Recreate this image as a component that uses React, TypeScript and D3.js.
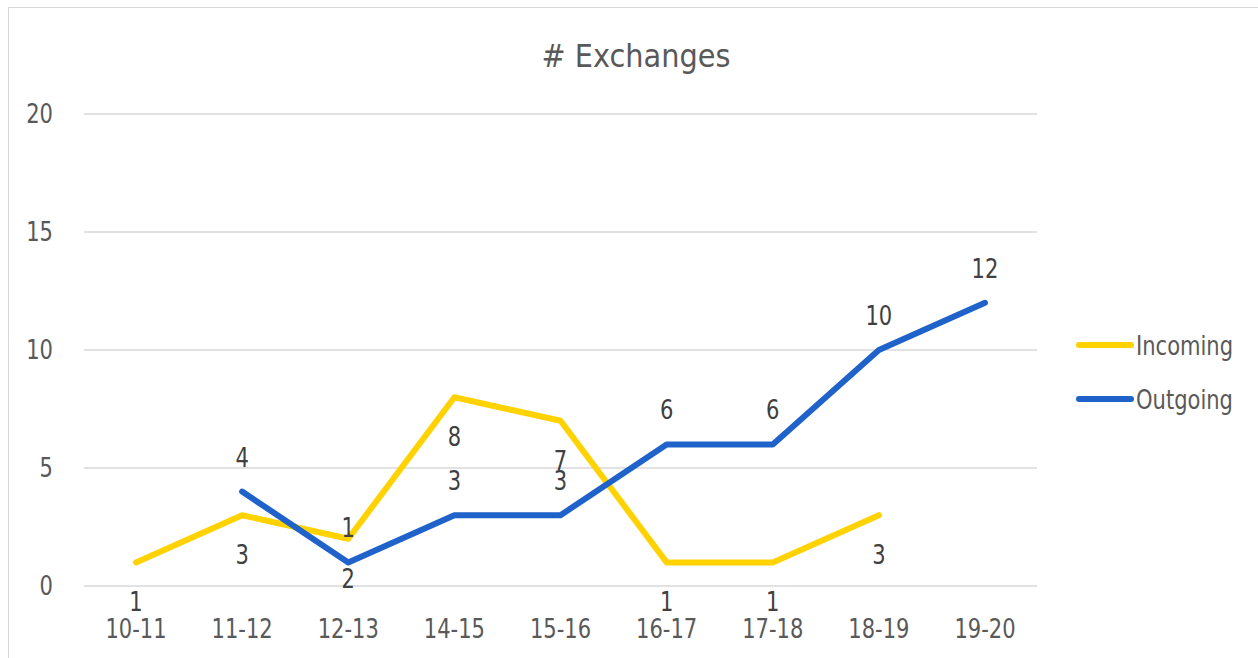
import React, { useEffect, useRef } from 'react';
import * as d3 from 'd3';

const categories = ['10-11', '11-12', '12-13', '14-15', '15-16', '16-17', '17-18', '18-19', '19-20'];
const incoming: (number | null)[] = [1, 3, 2, 8, 7, 1, 1, 3, null];
const outgoing: (number | null)[] = [null, 4, 1, 3, 3, 6, 6, 10, 12];
const yTicks = [0, 5, 10, 15, 20];

const FONT = '"DejaVu Sans", sans-serif';
const SQUEEZE = 0.78;

const App = () => {
  const svgRef = useRef<SVGSVGElement>(null);

  useEffect(() => {
    const svg = d3.select(svgRef.current);
    svg.selectAll('*').remove();

    const W = 1258;
    const H = 658;

    // narrow-looking text: squeeze horizontally around its anchor point
    const addText = (
      parent: d3.Selection<any, unknown, null, undefined>,
      tx: number,
      ty: number,
      label: string | number,
      opts: { size?: number; fill?: string; anchor?: string; sx?: number } = {}
    ) => {
      parent.append('text')
        .attr('transform', `translate(${tx},${ty}) scale(${opts.sx ?? SQUEEZE},1)`)
        .attr('text-anchor', opts.anchor ?? 'middle')
        .attr('font-family', FONT)
        .attr('font-size', opts.size ?? 27)
        .attr('fill', opts.fill ?? '#595959')
        .text(label);
    };

    // chart frame
    svg.append('rect')
      .attr('x', 8.5).attr('y', 7.5)
      .attr('width', W).attr('height', H)
      .attr('fill', 'white')
      .attr('stroke', '#d9d9d9');

    const x = d3.scalePoint<string>()
      .domain(categories)
      .range([136, 985]);

    const y = d3.scaleLinear()
      .domain([0, 20])
      .range([586, 114]);

    // Title
    addText(svg, 636, 67, '# Exchanges', { size: 32, sx: 0.9 });

    // Grid
    svg.append('g')
      .selectAll('line')
      .data(yTicks)
      .enter()
      .append('line')
      .attr('x1', 84).attr('x2', 1037)
      .attr('y1', d => y(d)).attr('y2', d => y(d))
      .attr('stroke', '#d9d9d9')
      .attr('stroke-width', 1.5);

    // Y labels
    const yg = svg.append('g');
    yTicks.forEach(t => addText(yg, 53, y(t) + 9, t, { anchor: 'end' }));

    // X labels
    const xg = svg.append('g');
    categories.forEach(c => addText(xg, x(c) as number, 638, c));

    const series = [
      { name: 'Incoming', values: incoming, color: '#FFD200', pos: 'below' },
      { name: 'Outgoing', values: outgoing, color: '#1F62C9', pos: 'above' },
    ];

    series.forEach(s => {
      const pts = categories.map((c, i) => ({ c, v: s.values[i] }));
      const line = d3.line<{ c: string; v: number | null }>()
        .defined(d => d.v !== null)
        .x(d => x(d.c) as number)
        .y(d => y(d.v as number));

      svg.append('path')
        .datum(pts)
        .attr('fill', 'none')
        .attr('stroke', s.color)
        .attr('stroke-width', 6)
        .attr('stroke-linejoin', 'round')
        .attr('stroke-linecap', 'round')
        .attr('d', line);
    });

    // Data labels drawn after lines
    series.forEach(s => {
      const lg = svg.append('g');
      categories.forEach((c, i) => {
        const v = s.values[i];
        if (v === null) return;
        addText(lg, x(c) as number, y(v) + (s.pos === 'above' ? -25 : 49), v, { fill: '#404040' });
      });
    });

    // Legend
    series.forEach((s, i) => {
      const ly = 345 + i * 54;
      svg.append('line')
        .attr('x1', 1079).attr('x2', 1131)
        .attr('y1', ly).attr('y2', ly)
        .attr('stroke', s.color)
        .attr('stroke-width', 6)
        .attr('stroke-linecap', 'round');
      addText(svg, 1136, ly + 10, s.name, { anchor: 'start' });
    });
  }, []);

  return (
    <svg
      ref={svgRef}
      width={1258}
      height={658}
      style={{ position: 'absolute', left: 0, top: 0, display: 'block' }}
    />
  );
};

export default App;
